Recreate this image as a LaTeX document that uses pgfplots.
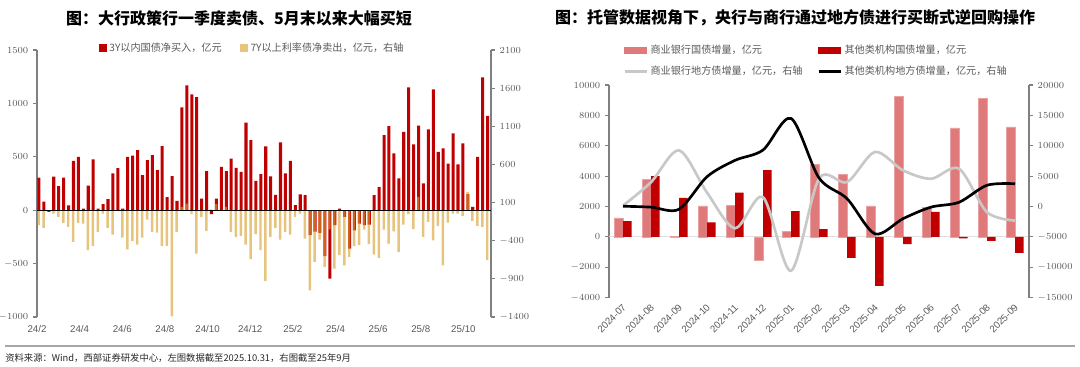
\documentclass[border=0pt]{standalone}
\usepackage{pgfplots}
\usepackage{pgfplotstable}
\pgfplotsset{compat=1.18}
\pgfplotsset{every axis/.append style={scaled y ticks=false, yticklabel style={/pgf/number format/1000 sep={}}}}
\usepackage{fontspec}
\setmainfont{Liberation Sans}
\newfontfamily\cjk{Noto Sans CJK SC}
\definecolor{barred}{RGB}{192,0,0}
\definecolor{baryel}{RGB}{216,160,45}
\definecolor{lightred}{RGB}{224,122,122}
\definecolor{linegray}{RGB}{200,200,200}
\definecolor{txtgray}{RGB}{89,89,89}
\definecolor{axgray}{RGB}{128,128,128}

\pgfplotstableread{
i red yel
1 305 -197
2 81 -232
3 -15 -10
4 315 -44
5 225 -87
6 306 -166
7 44 -219
8 462 -416
9 500 -166
10 15 -175
11 231 -525
12 475 -468
13 15 -284
14 56 -44
15 103 -232
16 344 -319
17 394 -10
18 15 -359
19 500 -512
20 510 -407
21 562 -451
22 328 -359
23 469 -122
24 516 -284
25 375 -293
26 600 -472
27 122 -468
28 319 -1391
29 88 -284
30 962 44
31 1169 87
32 1084 -52
33 1059 -569
34 109 -87
35 366 -271
36 -37 10
37 109 79
38 406 0
39 366 44
40 484 -284
41 397 -350
42 359 -337
43 819 -451
44 656 -643
45 275 -315
46 337 -525
47 597 -927
48 316 -350
49 144 -232
50 634 -385
51 344 -284
52 462 -319
53 47 -87
54 147 -44
55 141 -372
56 -234 -1050
57 -200 -678
58 -212 -385
59 -431 -744
60 -640 -250
61 -140 -766
62 15 -590
63 -62 -722
64 -360 -612
65 -188 -472
66 -125 -459
67 -140 -254
68 -134 -446
69 141 -581
70 216 -626
71 703 -254
72 788 -437
73 531 -276
74 297 -547
75 734 -188
76 1150 -52
77 616 -249
78 791 175
79 250 -350
80 756 -153
81 1131 -394
82 547 -210
83 578 -722
84 437 -162
85 719 -44
86 428 -44
87 625 -74
88 150 240
89 31 -140
90 500 -206
91 1244 -219
92 884 -656
}\lefttable

\pgfplotstableread{
i cb oth cbl othl
0 1250 1040 150 50
1 3800 4000 4000 -100
2 50 2570 9250 -450
3 2040 950 2300 4900
4 2090 2920 -3590 7600
5 -1560 4390 1540 9300
6 380 1690 -10580 14500
7 4770 510 4600 4700
8 4110 -1380 4020 1300
9 2040 -3220 8980 -4500
10 9260 -480 5950 -2000
11 1930 1650 4570 -100
12 7170 -90 6230 700
13 9130 -260 -940 3500
14 7240 -1050 -2310 3750
}\righttable

\begin{document}
\begin{tikzpicture}
\useasboundingbox (0pt,0pt) rectangle (810pt,275.25pt);

% titles
\node[anchor=center] at (179.25pt,261.75pt) {\cjk\bfseries\fontsize{12}{14}\selectfont 图：大行政策行一季度卖债、5月末以来大幅买短};
\node[anchor=center] at (596.25pt,261.75pt) {\cjk\bfseries\fontsize{12}{14}\selectfont 图：托管数据视角下，央行与商行通过地方债进行买断式逆回购操作};

% ---------- left panel, left axis ----------
\begin{axis}[
  at={(27.75pt,37.5pt)}, anchor=south west,
  width=340.5pt, height=200.25pt, scale only axis,
  xmin=0.6, xmax=92.7, ymin=-1000, ymax=1500,
  axis y line*=left, axis x line*=bottom,
  axis line style={-},
  x axis line style={draw=none},
  y axis line style={axgray, line width=0.8pt},
  ytick={-1000,-500,0,500,1000,1500},
  xtick={0.6,9.25,17.9,26.55,35.2,43.85,52.5,61.15,69.8,78.45,87.1},
  xticklabels={24/2,24/4,24/6,24/8,24/10,24/12,25/2,25/4,25/6,25/8,25/10},
  major x tick style={draw=none},
  major y tick style={axgray, line width=0.8pt},
  tick align=outside, major tick length=3pt,
  tick label style={font=\fontsize{7.3}{8}\selectfont, text=txtgray},
  ybar, bar width=0.62, bar shift=0,
]
\addplot[fill=barred, draw=none] table[x=i,y=red]{\lefttable};
\end{axis}

% ---------- left panel, right axis ----------
\begin{axis}[
  at={(27.75pt,37.5pt)}, anchor=south west,
  width=340.5pt, height=200.25pt, scale only axis,
  xmin=0.6, xmax=92.7, ymin=-1400, ymax=2100,
  axis y line*=right, axis x line=none,
  axis line style={-},
  y axis line style={axgray, line width=0.8pt},
  ytick={-1400,-900,-400,100,600,1100,1600,2100},
  major y tick style={axgray, line width=0.8pt},
  tick align=outside, major tick length=3pt,
  tick label style={font=\fontsize{7.3}{8}\selectfont, text=txtgray},
  ybar, bar width=0.5, bar shift=-0.06,
  legend columns=2,
  legend style={at={(0.1366,1.0075)}, anchor=west, draw=none, fill=none,
    font=\cjk\fontsize{7.6}{9}\selectfont, text=txtgray, inner sep=0pt,
    /tikz/every even column/.append style={column sep=12pt}},
  legend cell align=left,
  legend image code/.code={\fill[#1] (0pt,-2.8pt) rectangle (5.6pt,2.8pt);},
]
\addlegendimage{fill=barred, draw=none}
\addlegendentry{3Y以内国债净买入，亿元}
\addplot[fill=baryel, fill opacity=0.62, draw=none] table[x=i,y=yel]{\lefttable};
\addlegendentry{7Y以上利率债净卖出，亿元，右轴}
\draw[black, line width=0.6pt] (axis cs:0.6,0) -- (axis cs:92.7,0);
\end{axis}

% ---------- right panel, left axis ----------
\begin{axis}[
  at={(456.75pt,52pt)}, anchor=south west,
  width=315pt, height=159.5pt, scale only axis,
  xmin=-0.5, xmax=14.5, ymin=-4000, ymax=10000,
  axis y line*=left, axis x line*=bottom,
  axis line style={-},
  x axis line style={draw=none},
  y axis line style={axgray, line width=0.8pt},
  ytick={-4000,-2000,0,2000,4000,6000,8000,10000},
  xtick={0,...,14},
  xticklabels={2024-07,2024-08,2024-09,2024-10,2024-11,2024-12,2025-01,2025-02,2025-03,2025-04,2025-05,2025-06,2025-07,2025-08,2025-09},
  x tick label style={rotate=45, anchor=east, xshift=2pt, yshift=-3pt},
  major x tick style={draw=none},
  major y tick style={axgray, line width=0.8pt},
  tick align=outside, major tick length=3pt,
  tick label style={font=\fontsize{7.3}{8}\selectfont, text=txtgray},
  ybar, bar width=0.3,
]
\draw[gray!25, line width=0.8pt] (axis cs:-0.5,0) -- (axis cs:14.5,0);
\addplot[fill=lightred, draw=lightred!70!white, bar shift=-0.155] table[x=i,y=cb]{\righttable};
\addplot[fill=barred, draw=none, bar shift=0.155] table[x=i,y=oth]{\righttable};
\end{axis}

% ---------- right panel, right axis ----------
\begin{axis}[
  at={(456.75pt,52pt)}, anchor=south west,
  width=315pt, height=159.5pt, scale only axis,
  xmin=-0.5, xmax=14.5, ymin=-15000, ymax=20000,
  axis y line*=right, axis x line=none,
  axis line style={-},
  y axis line style={axgray, line width=0.8pt},
  ytick={-15000,-10000,-5000,0,5000,10000,15000,20000},
  major y tick style={axgray, line width=0.8pt},
  tick align=outside, major tick length=3pt,
  tick label style={font=\fontsize{7.3}{8}\selectfont, text=txtgray},
  legend columns=2,
  legend style={at={(0.0333,1.202)}, anchor=north west, draw=none, fill=none,
    font=\cjk\fontsize{7.6}{9}\selectfont, text=txtgray, inner sep=0pt,
    /tikz/every even column/.append style={column sep=9pt},
    row sep=4pt},
  legend cell align=left,
  legend image code/.code={\draw[#1] (0pt,0pt) -- (16.5pt,0pt);},
]
\addlegendimage{legend image code/.code={\fill[lightred] (0pt,-2.3pt) rectangle (16.5pt,2.3pt);}}
\addlegendentry{商业银行国债增量，亿元}
\addlegendimage{legend image code/.code={\fill[barred] (0pt,-2.3pt) rectangle (16.5pt,2.3pt);}}
\addlegendentry{其他类机构国债增量，亿元}
\addplot[linegray, line width=2pt, smooth] table[x=i,y=cbl]{\righttable};
\addlegendentry{商业银行地方债增量，亿元，右轴}
\addplot[black, line width=2pt, smooth] table[x=i,y=othl]{\righttable};
\addlegendentry{其他类机构地方债增量，亿元，右轴}
\end{axis}

% separator and source
\draw[gray!70, line width=1pt] (3.75pt,15.75pt) -- (806.25pt,15.75pt);
\node[anchor=west, inner sep=0pt] at (3.75pt,6.75pt) {\cjk\fontsize{7}{8}\selectfont\color{black!85} 资料来源：Wind，西部证券研发中心，左图数据截至2025.10.31，右图截至25年9月};
\end{tikzpicture}
\end{document}
